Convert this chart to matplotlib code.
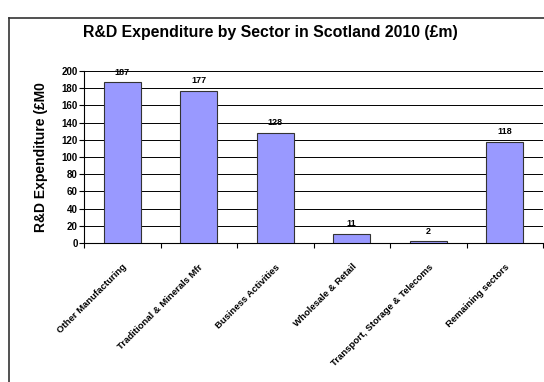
import matplotlib.pyplot as plt
from matplotlib.lines import Line2D

plt.rcParams['font.family'] = ['Liberation Sans', 'DejaVu Sans']
plt.rcParams['font.weight'] = 'bold'

sectors = ['Other Manufacturing', 'Traditional & Minerals Mfr', 'Business Activities',
           'Wholesale & Retail', 'Transport, Storage & Telecoms', 'Remaining sectors']
spend = [187, 177, 128, 11, 2, 118]
yticks = [0, 20, 40, 60, 80, 100, 120, 140, 160, 180, 200]

fig = plt.figure(figsize=(5.44, 3.82), dpi=100)
ax = fig.add_axes([84 / 544, 1 - 243 / 382, 459 / 544, 172 / 382])

x = range(len(sectors))
bars = ax.bar(x, spend, width=0.49, color='#9999ff', edgecolor='#333333', linewidth=0.8, zorder=3)
for b, v in zip(bars, spend):
    ax.annotate(str(v), (b.get_x() + b.get_width() / 2, v), xytext=(0, 4),
                textcoords='offset points', ha='center', va='bottom', fontsize=6.5, fontweight='bold')

ax.set_xlim(-0.5, len(sectors) - 0.5)
ax.set_ylim(0, 200)
ax.set_yticks(yticks)
ax.set_yticklabels([str(t) for t in yticks], fontsize=7, fontweight='bold')
ax.yaxis.grid(True, color='black', linewidth=0.7, zorder=0)

ax.set_xticks([i - 0.5 for i in range(len(sectors) + 1)], minor=False)
ax.set_xticklabels([])
ax.set_xticks(list(x), minor=True)
ax.set_xticklabels(sectors, minor=True, rotation=45, ha='right', va='top', rotation_mode='anchor',
                   fontsize=6.8, fontweight='bold')
ax.tick_params(axis='x', which='minor', length=0, pad=14)
ax.tick_params(axis='x', which='major', length=3.5, width=0.8, direction='out')
ax.tick_params(axis='y', length=3.5, width=0.8, pad=1)

for s in ['top', 'right']:
    ax.spines[s].set_visible(False)
for s in ['left', 'bottom']:
    ax.spines[s].set_linewidth(0.8)

ax.set_ylabel('R&D Expenditure (£M0', fontsize=10, fontweight='bold', labelpad=10)

fig.text(270 / 544, 1 - 32 / 382, 'R&D Expenditure by Sector in Scotland 2010 (£m)',
         ha='center', va='center', fontsize=11.4, fontweight='bold')

# outer chart frame (cropped on the right and bottom)
fig.add_artist(Line2D([9 / 544, 9 / 544], [0, 1 - 18 / 382], transform=fig.transFigure,
                      color='#333333', linewidth=1.2))
fig.add_artist(Line2D([9 / 544, 1], [1 - 18 / 382, 1 - 18 / 382], transform=fig.transFigure,
                      color='#333333', linewidth=1.2))

fig.savefig('out.png', dpi=100)
